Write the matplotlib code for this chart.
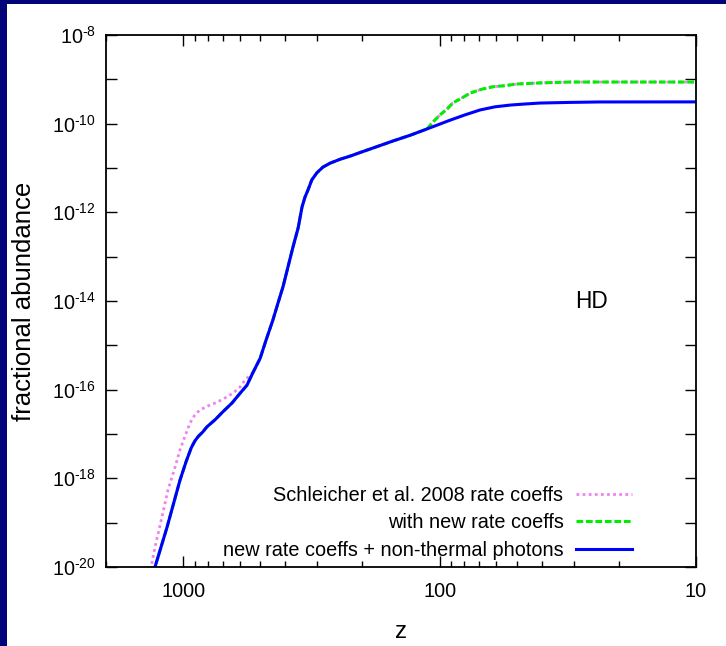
import matplotlib
matplotlib.use("Agg")
import matplotlib.pyplot as plt
from matplotlib import font_manager
from matplotlib.patches import Rectangle
from matplotlib.ticker import FixedLocator, FixedFormatter, NullFormatter

# ---- font: narrow sans if present ----
try:
    font_manager.findfont("Liberation Sans Narrow", fallback_to_default=False)
    family, fs = "Liberation Sans Narrow", 17
except ValueError:
    family, fs = "Liberation Sans", 14.3

plt.rcParams["font.family"] = [family, "DejaVu Sans"]
plt.rcParams["mathtext.fontset"] = "custom"
plt.rcParams["mathtext.rm"] = family
plt.rcParams["mathtext.it"] = family
plt.rcParams["mathtext.default"] = "regular"

# ========================== Data ==========================
# redshift z and HD fractional abundance

# new rate coeffs + non-thermal photons
z_photons = [1324, 1288, 1156, 1029, 975, 930, 900, 872, 840, 808, 751, 699, 645,
             600, 564, 535, 501, 475, 447, 427, 408, 373, 356, 344, 335, 326, 315,
             301, 285, 267, 244, 223, 204, 182, 152, 130, 112, 91, 79.6, 69.5, 60.8,
             53, 46.4, 40.6, 31, 23.7, 10]
x_photons = [4.6e-21, 1.0e-20, 7.9e-20, 9.1e-19, 2.35e-18, 4.9e-18, 7.0e-18, 8.9e-18,
             1.1e-17, 1.45e-17, 2.1e-17, 3.2e-17, 5.0e-17, 8.3e-17, 1.26e-16, 2.4e-16,
             5.1e-16, 1.32e-15, 3.7e-15, 8.9e-15, 2.1e-14, 1.66e-13, 4.5e-13, 1.32e-12,
             2.2e-12, 3.2e-12, 5.4e-12, 7.8e-12, 1.05e-11, 1.29e-11, 1.58e-11,
             1.86e-11, 2.24e-11, 2.82e-11, 4.07e-11, 5.5e-11, 7.6e-11, 1.2e-10,
             1.58e-10, 2.04e-10, 2.4e-10, 2.63e-10, 2.78e-10, 2.92e-10, 3.02e-10,
             3.09e-10, 3.1e-10]

# with new rate coeffs
z_new = [1324, 1288, 1156, 1029, 975, 930, 900, 872, 840, 808, 751, 699, 645, 600,
         564, 535, 501, 475, 447, 427, 408, 373, 356, 344, 335, 326, 315, 301, 285,
         267, 244, 223, 204, 182, 152, 130, 112, 106, 99.6, 93.5, 88.7, 81.8, 76,
         68.4, 62, 55.6, 50, 40.6, 31, 10]
x_new = [4.6e-21, 1.0e-20, 7.9e-20, 9.1e-19, 2.35e-18, 4.9e-18, 7.0e-18, 8.9e-18,
         1.1e-17, 1.45e-17, 2.1e-17, 3.2e-17, 5.0e-17, 8.3e-17, 1.26e-16, 2.4e-16,
         5.1e-16, 1.32e-15, 3.7e-15, 8.9e-15, 2.1e-14, 1.66e-13, 4.5e-13, 1.32e-12,
         2.2e-12, 3.2e-12, 5.4e-12, 7.8e-12, 1.05e-11, 1.29e-11, 1.58e-11, 1.86e-11,
         2.24e-11, 2.82e-11, 4.07e-11, 5.5e-11, 7.6e-11, 1.1e-10, 1.58e-10, 2.14e-10,
         2.95e-10, 3.8e-10, 4.9e-10, 6.0e-10, 6.8e-10, 7.2e-10, 7.85e-10, 8.3e-10,
         8.7e-10, 8.7e-10]

# Schleicher et al. 2008 rate coeffs
z_s08 = [1358, 1334, 1288, 1210, 1146, 1076, 1029, 984, 940, 900, 860, 800, 738, 687,
         640, 600, 574, 535, 501, 475, 447, 427, 408, 373, 356, 344, 335, 326, 315,
         301, 285, 267, 244, 223, 204, 182, 152, 130, 112, 106, 99.6, 93.5, 88.7,
         81.8, 76, 68.4, 62, 55.6, 50, 40.6, 31, 10]
x_s08 = [4.6e-21, 1.0e-20, 2.8e-20, 1.35e-19, 5.5e-19, 1.78e-18, 4.4e-18, 8.9e-18,
         1.78e-17, 2.7e-17, 3.5e-17, 4.3e-17, 5.2e-17, 6.5e-17, 8.3e-17, 1.15e-16,
         1.66e-16, 2.4e-16, 5.1e-16, 1.32e-15, 3.7e-15, 8.9e-15, 2.1e-14, 1.66e-13,
         4.5e-13, 1.32e-12, 2.2e-12, 3.2e-12, 5.4e-12, 7.8e-12, 1.05e-11, 1.29e-11,
         1.58e-11, 1.86e-11, 2.24e-11, 2.82e-11, 4.07e-11, 5.5e-11, 7.6e-11, 1.1e-10,
         1.58e-10, 2.14e-10, 2.95e-10, 3.8e-10, 4.9e-10, 6.0e-10, 6.8e-10, 7.2e-10,
         7.85e-10, 8.3e-10, 8.7e-10, 8.7e-10]

labels = ["Schleicher et al. 2008 rate coeffs",
          "with new rate coeffs",
          "new rate coeffs + non-thermal photons"]

x_major = [1000, 100, 10]
x_major_labels = ["1000", "100", "10"]
x_minor = [2000, 900, 800, 700, 600, 500, 400, 300, 200,
           90, 80, 70, 60, 50, 40, 30, 20]
y_exps = [-20, -19, -18, -17, -16, -15, -14, -13, -12, -11, -10, -9, -8]
# ==========================================================

fig = plt.figure(figsize=(7.26, 6.46), dpi=100)
fig.patch.set_facecolor("white")
ax = fig.add_axes([0.146, 0.1223, 0.8127, 0.8235])

ax.plot(z_s08, x_s08, color="#ee82ee", lw=2.0, ls=(0, (1, 1.2)), label=labels[0])
ax.plot(z_new, x_new, color="#00ee00", lw=2.2, ls=(0, (2.2, 0.9)), label=labels[1])
ax.plot(z_photons, x_photons, color="#0000ff", lw=2.2, label=labels[2])

ax.set_xscale("log")
ax.set_yscale("log")
ax.set_xlim(2000, 10)
ax.set_ylim(1e-20, 1e-8)

ax.xaxis.set_major_locator(FixedLocator(x_major))
ax.xaxis.set_major_formatter(FixedFormatter(x_major_labels))
ax.xaxis.set_minor_locator(FixedLocator(x_minor))
ax.xaxis.set_minor_formatter(NullFormatter())

y_ticks = [10.0 ** e for e in y_exps]
y_labels = [r"$10^{\text{-}%d}$" % -e if e % 2 == 0 else "" for e in y_exps]
ax.yaxis.set_major_locator(FixedLocator(y_ticks))
ax.yaxis.set_major_formatter(FixedFormatter(y_labels))
ax.yaxis.set_minor_locator(FixedLocator([]))

ax.tick_params(which="both", direction="in", top=True, right=True, width=1.0,
               labelsize=fs, colors="black")
ax.tick_params(which="major", length=8)
ax.tick_params(which="minor", length=4)
ax.tick_params(axis="x", pad=11)
ax.tick_params(axis="y", pad=7)
for s in ax.spines.values():
    s.set_linewidth(1.3)

ax.set_xlabel("z", fontsize=fs + 3, labelpad=14)
ax.set_ylabel("fractional abundance", fontsize=fs * 1.3, labelpad=12)

ax.text(0.823, 0.5, "HD", transform=ax.transAxes, fontsize=fs + 2,
        ha="center", va="center")

ax.legend(loc="lower right", bbox_to_anchor=(0.8915, 0.014), frameon=False,
          markerfirst=False, fontsize=fs, handlelength=2.8, handletextpad=0.65,
          labelspacing=0.42, borderpad=0, borderaxespad=0)

# navy slide border on the top and left edges
fig.add_artist(Rectangle((0, 0), 7 / 726, 1, transform=fig.transFigure,
                         facecolor="#03037a", edgecolor="none", zorder=10))
fig.add_artist(Rectangle((0, 1 - 4 / 646), 1, 4 / 646, transform=fig.transFigure,
                         facecolor="#03037a", edgecolor="none", zorder=10))

plt.savefig("out.png", dpi=100)
